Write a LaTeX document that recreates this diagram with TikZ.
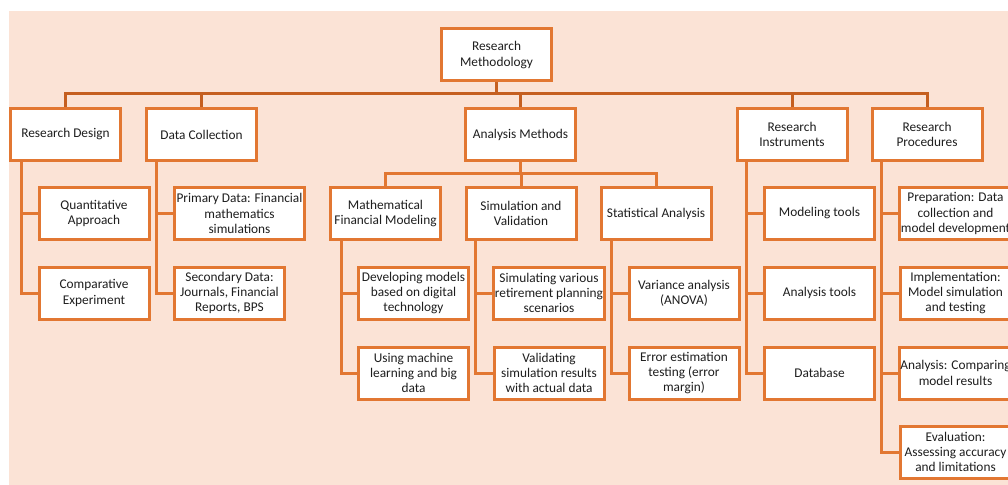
\documentclass[tikz,border=0pt]{standalone}
\usepackage{fontspec}
\setmainfont{Carlito}
\usepackage{tikz}
\usetikzlibrary{positioning,backgrounds}

\definecolor{bgpink}{RGB}{251,227,214}
\definecolor{boxorange}{RGB}{226,119,50}
\definecolor{busbrown}{RGB}{197,95,32}
\definecolor{txtgray}{RGB}{30,30,30}

\tikzset{
    box/.style={draw=boxorange, line width=2.25pt, fill=white, align=center,
        minimum width=82.5pt, minimum height=39pt, inner sep=1pt,
        text=txtgray, font=\fontsize{10}{11.4}\selectfont},
    bus/.style={draw=busbrown, line width=2.25pt},
    link/.style={draw=boxorange, line width=2.25pt}
}

\begin{document}
\begin{tikzpicture}[x=0.75pt, y=-0.75pt]
        % page
        \useasboundingbox (0,0) rectangle (1008,485);
        \clip (0,0) rectangle (1008,485);

        % top
        \node[box] (root) at (496.5,55) {Research\\Methodology};

        % first level
        \node[box] (rd) at (65.5,134.5) {Research Design};
        \node[box] (dc) at (201.5,134.5) {Data Collection};
        \node[box] (am) at (520.5,134.5) {Analysis Methods};
        \node[box] (ri) at (792,134.5) {Research\\Instruments};
        \node[box] (rp) at (927,134.5) {Research\\Procedures};

        % research design
        \node[box] (qa) at (94,213.5) {Quantitative\\Approach};
        \node[box] (ce) at (94,293) {Comparative\\Experiment};

        % data collection
        \node[box, minimum width=97.5pt] (pd) at (239.5,213.5) {Primary Data: Financial\\mathematics\\simulations};
        \node[box] (sd) at (229.5,293) {Secondary Data:\\Journals, Financial\\Reports, BPS};

        % analysis methods
        \node[box] (mf) at (385.5,213.5) {Mathematical\\Financial Modeling};
        \node[box] (sv) at (521,213.5) {Simulation and\\Validation};
        \node[box] (sa) at (656,213.5) {Statistical Analysis};

        \node[box] (dm) at (413.5,293) {Developing models\\based on digital\\technology};
        \node[box] (ml) at (413.5,373) {Using machine\\learning and big\\data};
        \node[box] (ss) at (549,293) {Simulating various\\retirement planning\\scenarios};
        \node[box] (vs) at (549,373) {Validating\\simulation results\\with actual data};
        \node[box] (va) at (684,293) {Variance analysis\\(ANOVA)};
        \node[box] (ee) at (684,373) {Error estimation\\testing (error\\margin)};

        % research instruments
        \node[box] (mt) at (819.5,213.5) {Modeling tools};
        \node[box] (at) at (819.5,293) {Analysis tools};
        \node[box] (db) at (819.5,373) {Database};

        % research procedures
        \node[box] (pr) at (955.5,213.5) {Preparation: Data\\collection and\\model development};
        \node[box] (im) at (955.5,293) {Implementation:\\Model simulation\\and testing};
        \node[box] (ac) at (955.5,373) {Analysis: Comparing\\model results};
        \node[box] (ev) at (955.5,452) {Evaluation:\\Assessing accuracy\\and limitations};

        \begin{scope}[on background layer]
        % background
        \fill[white] (0,0) rectangle (1008,485);
        \fill[bgpink] (9,11) rectangle (1008,485);

        % main bus
        \coordinate (mbus) at (496.5,94);
        \draw[bus] (root.south) -- (mbus);
        \draw[bus] (rd.north) |- (mbus) -| (rp.north);
        \draw[bus] (dc.north) -- (dc.north |- mbus);
        \draw[bus] (am.north) -- (am.north |- mbus);
        \draw[bus] (ri.north) -- (ri.north |- mbus);

        % analysis sub-bus
        \coordinate (abus) at (520.5,174);
        \draw[link] (am.south) -- (abus);
        \draw[link] (mf.north) |- (abus) -| (sa.north);
        \draw[link] (sv.north) -- (sv.north |- abus);

        % trunks
        \draw[link] ([xshift=9pt]rd.south west) |- (qa.west);
        \draw[link] ([xshift=9pt]rd.south west) |- (ce.west);
        \draw[link] ([xshift=8.25pt]dc.south west) |- (pd.west);
        \draw[link] ([xshift=8.25pt]dc.south west) |- (sd.west);
        \draw[link] ([xshift=9pt]mf.south west) |- (dm.west);
        \draw[link] ([xshift=9pt]mf.south west) |- (ml.west);
        \draw[link] ([xshift=8.25pt]sv.south west) |- (ss.west);
        \draw[link] ([xshift=8.25pt]sv.south west) |- (vs.west);
        \draw[link] ([xshift=9pt]sa.south west) |- (va.west);
        \draw[link] ([xshift=9pt]sa.south west) |- (ee.west);
        \draw[link] ([xshift=8.25pt]ri.south west) |- (mt.west);
        \draw[link] ([xshift=8.25pt]ri.south west) |- (at.west);
        \draw[link] ([xshift=8.25pt]ri.south west) |- (db.west);
        \draw[link] ([xshift=8.25pt]rp.south west) |- (pr.west);
        \draw[link] ([xshift=8.25pt]rp.south west) |- (im.west);
        \draw[link] ([xshift=8.25pt]rp.south west) |- (ac.west);
        \draw[link] ([xshift=8.25pt]rp.south west) |- (ev.west);
        \end{scope}
\end{tikzpicture}
\end{document}
